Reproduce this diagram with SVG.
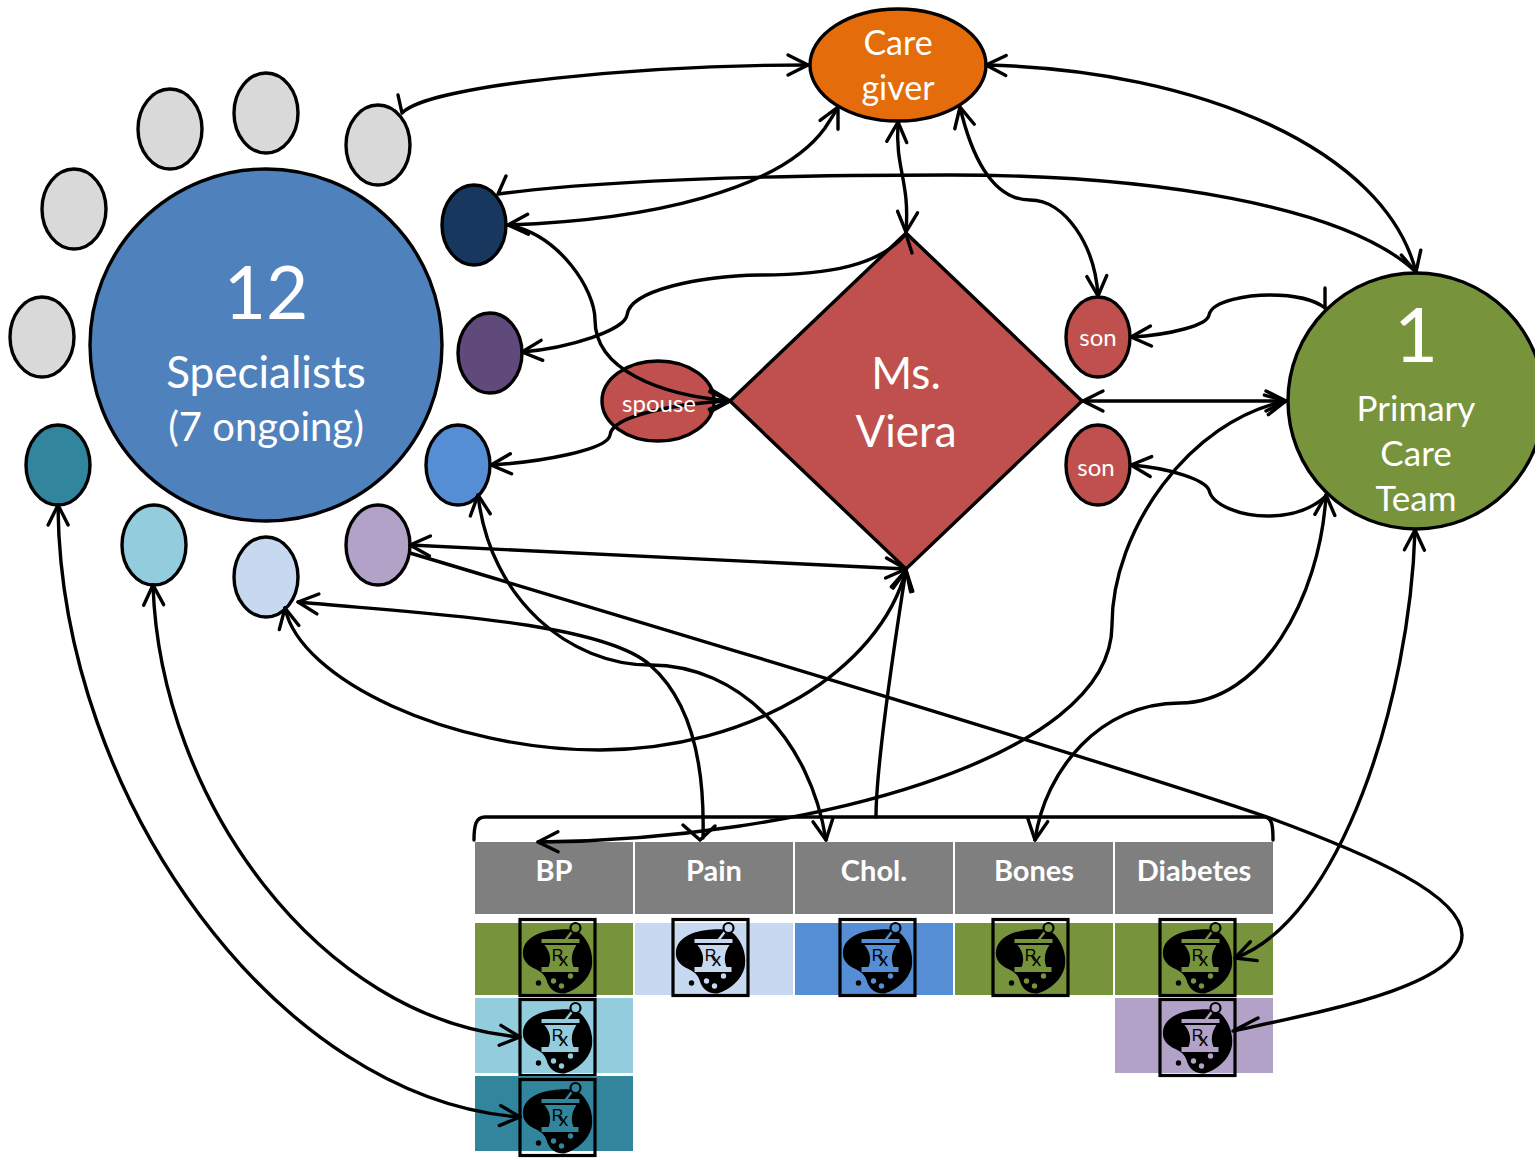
<svg xmlns="http://www.w3.org/2000/svg" xmlns:xlink="http://www.w3.org/1999/xlink" width="1535" height="1158" viewBox="0 0 1535 1158">
<style>
text{font-family:"Lato","Carlito","Open Sans",sans-serif;fill:#fff;text-anchor:middle}
.n{stroke:#000;stroke-width:3.4}
.g{fill:#d9d9d9}
.red{fill:#c0504d}
.h{fill:#7f7f7f}
.hd{font-weight:700;font-size:29px}
.green{color:#77933c;fill:#77933c}
.lb{color:#c6d9f1;fill:#c6d9f1}
.bl{color:#558ed5;fill:#558ed5}
.cy{color:#93cddd;fill:#93cddd}
.te{color:#31859c;fill:#31859c}
.la{color:#b2a2c7;fill:#b2a2c7}
#connectors path{fill:none;stroke:#000;stroke-width:3.4;stroke-linecap:round;stroke-linejoin:round}
.a{marker-start:url(#ah);marker-end:url(#ah)}
.s{marker-start:url(#ah)}
.e{marker-end:url(#ah)}
</style>
<defs>
<marker id="ah" markerUnits="userSpaceOnUse" markerWidth="30" markerHeight="30" viewBox="-26 -15 30 30" refX="0" refY="0" orient="auto-start-reverse"><path d="M-20,-10 L0,0 L-20,10" fill="none" stroke="#000" stroke-width="3.4" stroke-linecap="round" stroke-linejoin="round"/></marker>
<symbol id="rx" viewBox="0 0 76 77" width="76" height="77" overflow="visible">
<path d="M40,10.5 C50,9.5 60,11 65,19 C72,28 74,40 72,49 C69,60 58,71 45,74.5 C37,75 31,71 28,64 C26,57 24,54 16,50 C7,46 2.5,40 3.5,32 C5,19 20,11.5 40,10.5Z" fill="#000"/>
<path d="M46,21 L53,12" stroke="#000" stroke-width="5.5" fill="none"/>
<path d="M46,21 L53,12" stroke="currentColor" stroke-width="2.4" fill="none"/>
<circle cx="56" cy="9" r="5" fill="currentColor" stroke="#000" stroke-width="2.2"/>
<path d="M22,20 H60 V24 H22Z M25,26 H57 C52,33 51,41 54,48 H59 V53 H22 V48 H29 C32,41 31,33 25,26Z" fill="currentColor"/>
<circle cx="34" cy="62" r="2.7" fill="currentColor"/><circle cx="42" cy="67" r="2.7" fill="currentColor"/><circle cx="51" cy="57" r="2.7" fill="currentColor"/>
<circle cx="19" cy="64" r="2.7" fill="#000"/>
<text x="38" y="42" style="font-size:16px;fill:#000;font-family:'Liberation Sans',sans-serif">R</text>
<text x="44" y="47" style="font-size:19px;fill:#000;font-family:'Liberation Sans',sans-serif">x</text>
<rect x="0.5" y="0.5" width="75" height="76" fill="none" stroke="#000" stroke-width="3.2"/>
</symbol>
</defs>

<g id="specialists"><circle class="n" cx="266" cy="345" r="176" fill="#4f81bd"/>
<text x="266" y="319" font-size="73">12</text><text x="266" y="388" font-size="44">Specialists</text><text x="266" y="441" font-size="40">(7 ongoing)</text></g>
<g id="gray-1"><ellipse class="n g" cx="378" cy="145" rx="32" ry="40"/></g>
<g id="gray-2"><ellipse class="n g" cx="266" cy="113" rx="32" ry="40"/></g>
<g id="gray-3"><ellipse class="n g" cx="170" cy="129" rx="32" ry="40"/></g>
<g id="gray-4"><ellipse class="n g" cx="74" cy="209" rx="32" ry="40"/></g>
<g id="gray-5"><ellipse class="n g" cx="42" cy="337" rx="32" ry="40"/></g>
<g id="spec-teal"><ellipse class="n" cx="58" cy="465" rx="32" ry="40" fill="#31859c"/></g>
<g id="spec-cyan"><ellipse class="n" cx="154" cy="545" rx="32" ry="40" fill="#93cddd"/></g>
<g id="spec-lightblue"><ellipse class="n" cx="266" cy="577" rx="32" ry="40" fill="#c6d9f1"/></g>
<g id="spec-lavender"><ellipse class="n" cx="378" cy="545" rx="32" ry="40" fill="#b2a2c7"/></g>
<g id="spec-blue"><ellipse class="n" cx="458" cy="465" rx="32" ry="40" fill="#558ed5"/></g>
<g id="spec-purple"><ellipse class="n" cx="490" cy="353" rx="32" ry="40" fill="#604a7b"/></g>
<g id="spec-navy"><ellipse class="n" cx="474" cy="225" rx="32" ry="40" fill="#17375e"/></g>
<g id="caregiver"><ellipse class="n" cx="898" cy="65" rx="88" ry="56" fill="#e46c0a"/>
<text x="898" y="55" font-size="34">Care</text><text x="898" y="100" font-size="34">giver</text></g>
<g id="viera"><polygon class="n red" points="906,233 1082,401 906,569 730,401"/>
<text x="906" y="389" font-size="44">Ms.</text><text x="906" y="447" font-size="44">Viera</text></g>
<g id="son-1"><ellipse class="n red" cx="1098" cy="337" rx="32" ry="40"/><text x="1098" y="346" font-size="24">son</text></g>
<g id="son-2"><ellipse class="n red" cx="1098" cy="465" rx="32" ry="40"/><text x="1096" y="476" font-size="24">son</text></g>
<g id="spouse"><ellipse class="n red" cx="658" cy="401" rx="56" ry="40"/></g>
<g id="primary"><circle class="n" cx="1416" cy="401" r="128" fill="#77933c"/>
<text x="1416" y="362" font-size="76">1</text><text x="1416" y="421" font-size="35">Primary</text><text x="1416" y="466" font-size="35">Care</text><text x="1416" y="511" font-size="35">Team</text></g>

<g id="col-bp"><rect class="h" x="475" y="842" width="158" height="72"/><text class="hd" x="554" y="881">BP</text>
<rect class="green" x="475" y="923" width="158" height="72"/><use xlink:href="#rx" href="#rx" class="green" x="519.5" y="919"/>
<rect class="cy" x="475" y="998" width="158" height="75"/><use xlink:href="#rx" href="#rx" class="cy" x="519.5" y="999"/>
<rect class="te" x="475" y="1076" width="158" height="75"/><use xlink:href="#rx" href="#rx" class="te" x="519.5" y="1079"/></g>
<g id="col-pain"><rect class="h" x="635" y="842" width="158" height="72"/><text class="hd" x="714" y="881">Pain</text>
<rect class="lb" x="635" y="923" width="158" height="72"/><use xlink:href="#rx" href="#rx" class="lb" x="672.5" y="919"/></g>
<g id="col-chol"><rect class="h" x="795" y="842" width="158" height="72"/><text class="hd" x="874" y="881">Chol.</text>
<rect class="bl" x="795" y="923" width="158" height="72"/><use xlink:href="#rx" href="#rx" class="bl" x="839.5" y="919"/></g>
<g id="col-bones"><rect class="h" x="955" y="842" width="158" height="72"/><text class="hd" x="1034" y="881">Bones</text>
<rect class="green" x="955" y="923" width="158" height="72"/><use xlink:href="#rx" href="#rx" class="green" x="992.5" y="919"/></g>
<g id="col-diabetes"><rect class="h" x="1115" y="842" width="158" height="72"/><text class="hd" x="1194" y="881">Diabetes</text>
<rect class="green" x="1115" y="923" width="158" height="72"/><use xlink:href="#rx" href="#rx" class="green" x="1159.5" y="919"/>
<rect class="la" x="1115" y="998" width="158" height="75"/><use xlink:href="#rx" href="#rx" class="la" x="1159.5" y="999"/></g>

<g id="connectors">
<path class="e" d="M402,113 L398,95 M402,113 C430,84 650,65 808,65"/>
<path class="a" d="M986,65 C1200,70 1385,150 1416,272"/>
<path class="a" d="M508,225 C650,220 780,190 825,128 C830,120 835,113 838,107"/>
<path class="a" d="M898,122 C895,170 910,180 906,232"/>
<path class="a" d="M960,107 C970,150 990,200 1030,200 C1065,200 1095,245 1098,296"/>
<path d="M506,176 L498,194 C620,178 800,175 950,175 C1150,175 1345,205 1416,272"/>
<path class="e" d="M508,225 C560,235 595,290 595,320 C595,370 660,395 730,401"/>
<path class="s" d="M522,352 C570,348 625,330 627,315 C630,290 700,276 760,275 C830,275 880,265 906,234 L912,253"/>
<path class="a" d="M491,465 C540,462 608,450 610,435 C612,415 680,403 730,401"/>
<path class="a" d="M478,495 C490,600 570,665 650,665 C740,665 810,740 826,840"/>
<path class="a" d="M410,545 L906,569"/>
<path d="M410,553 C700,640 1100,760 1270,818 C1370,855 1462,895 1462,935 C1462,985 1330,1010 1233,1031 L1258,1018"/>
<path class="s" d="M298,602 C400,612 600,620 650,665 C690,700 705,760 703,838 M683,825 L700,840 L715,826"/>
<path class="a" d="M285,608 C300,680 450,750 600,750 C750,750 880,670 906,570"/>
<path class="s" d="M906,570 C895,640 876,770 876,817"/>
<path d="M474,840 C474,825 476,817 485,817 L1264,817 C1272,817 1273,825 1273,840"/>
<path class="a" d="M1083,401 L1286,401"/>
<path class="s" d="M1131,337 C1170,335 1208,325 1209,315 C1212,300 1250,295 1270,295 C1295,295 1315,300 1325,308 L1325,288"/>
<path class="s" d="M1131,465 C1170,468 1205,480 1209,490 C1212,505 1240,516 1268,516 C1290,516 1310,510 1325,497"/>
<path class="a" d="M1286,401 C1190,420 1112,530 1112,625 C1112,760 800,840 538,842"/>
<path class="a" d="M1326,495 C1320,600 1260,703 1180,703 C1100,703 1045,770 1035,840"/>
<path class="a" d="M1415,530 C1410,700 1340,920 1235,958"/>
<path class="a" d="M58,505 C60,800 280,1100 520,1117"/>
<path class="a" d="M153,585 C160,800 320,1020 520,1037"/>
</g>
<g id="spouse-label"><text x="659" y="412" font-size="24">spouse</text></g>
</svg>
